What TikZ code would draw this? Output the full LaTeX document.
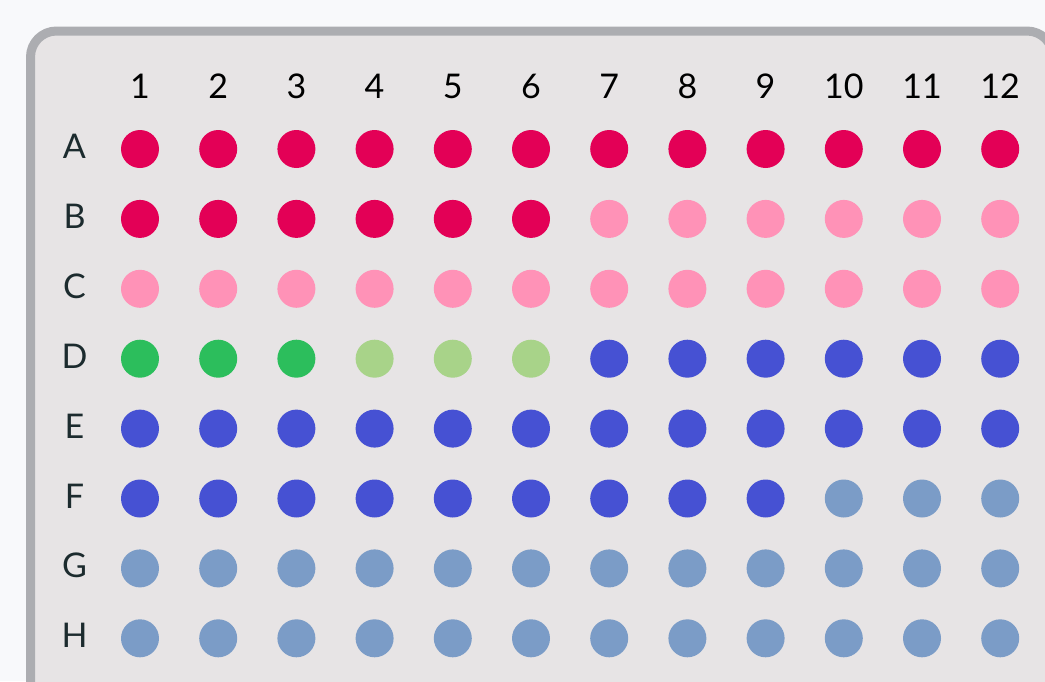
\documentclass[tikz,border=0pt]{standalone}
\usepackage{fontspec}
\setmainfont{Lato}

\definecolor{pagebg}{HTML}{F8F9FB}
\definecolor{platefill}{HTML}{E7E4E5}
\definecolor{platerim}{HTML}{ACADB1}
\definecolor{labtext}{HTML}{1C2B2E}
\definecolor{wellred}{HTML}{E30056}
\definecolor{wellpink}{HTML}{FF92B7}
\definecolor{wellgreen}{HTML}{2CBE5C}
\definecolor{welllime}{HTML}{A8D389}
\definecolor{wellblue}{HTML}{4651D3}
\definecolor{wellslate}{HTML}{7B9CC7}

\begin{document}
\begin{tikzpicture}[x=1pt,y=-1pt,
  well/.style={circle,inner sep=0pt,minimum size=38pt},
  lab/.style={anchor=base,inner sep=0pt,font=\fontsize{34}{40}\selectfont}]
  \useasboundingbox (0,0) rectangle (1045,681);
  \fill[pagebg] (0,0) rectangle (1045,681);
  \clip (0,0) rectangle (1045,681);
  % plate
  \draw[line width=9pt,draw=platerim,fill=platefill,rounded corners=26pt]
    (30.5,31) rectangle (1053,730);
  % column numbers
  \foreach \c in {1,...,12} {
    \node[lab,text=black] (col\c) at ({140+(\c-1)*78.2},98) {\c};
  }
  % row letters
  \foreach \row [count=\j] in {A,B,C,D,E,F,G,H} {
    \node[lab,text=labtext] (row\row) at (74.5,{158.5+(\j-1)*69.9}) {\row};
  }
  % wells
  \foreach \row/\j/\first/\last/\col in {A/1/1/12/wellred,B/2/1/6/wellred,
      B/2/7/12/wellpink,C/3/1/12/wellpink,D/4/1/3/wellgreen,D/4/4/6/welllime,
      D/4/7/12/wellblue,E/5/1/12/wellblue,F/6/1/9/wellblue,F/6/10/12/wellslate,
      G/7/1/12/wellslate,H/8/1/12/wellslate} {
    \foreach \c in {\first,...,\last} {
      \node[well,fill=\col] (\row\c) at ({140+(\c-1)*78.2},{149+(\j-1)*69.9}) {};
    }
  }
\end{tikzpicture}
\end{document}
